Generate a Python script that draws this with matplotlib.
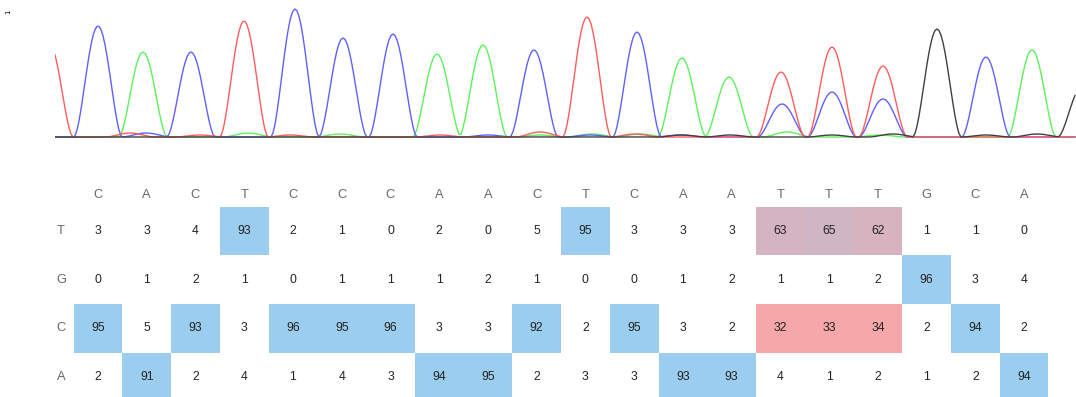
import numpy as np
import matplotlib.pyplot as plt

# called bases and per-base percentages (rows T, G, C, A)
bases = list("CACTCCCAACTCAATTTGCA")
row_labels = ["T", "G", "C", "A"]
pct_T = [3, 3, 4, 93, 2, 1, 0, 2, 0, 5, 95, 3, 3, 3, 63, 65, 62, 1, 1, 0]
pct_G = [0, 1, 2, 1, 0, 1, 1, 1, 2, 1, 0, 0, 1, 2, 1, 1, 2, 96, 3, 4]
pct_C = [95, 5, 93, 3, 96, 95, 96, 3, 3, 92, 2, 95, 3, 2, 32, 33, 34, 2, 94, 2]
pct_A = [2, 91, 2, 4, 1, 4, 3, 94, 95, 2, 3, 3, 93, 93, 4, 1, 2, 1, 2, 94]

# chromatogram peaks per channel: (scan position, height)
peaks_C = [(98, 111), (191, 85), (295, 128), (343, 99), (393, 103), (534, 87),
           (637, 105), (782, 33), (832, 45), (883, 38), (986, 80),
           (146, 4), (488, 2), (590, 2), (680, 2)]
peaks_A = [(143, 85), (437, 83), (483, 92), (682, 79), (729, 60), (1032, 87),
           (248, 4), (340, 3), (540, 2), (592, 3), (640, 3), (787, 5), (880, 2)]
peaks_T = [(49, 94), (244, 116), (587, 120), (781, 65), (832, 90), (883, 71),
           (130, 4), (200, 2), (290, 2), (440, 2), (540, 5), (635, 3)]
peaks_G = [(937, 108), (1082, 50),
           (682, 2), (730, 2), (832, 2), (893, 3), (986, 2), (1037, 3)]

W, H = 1076, 397
fig = plt.figure(figsize=(W / 100, H / 100), dpi=100)


def trace(x, peaks, w=24.0, p=1.7):
    y = np.zeros_like(x)
    for pos, h in peaks:
        d = np.abs(x - pos)
        m = d < w
        y[m] += h * np.cos(np.pi * d[m] / (2 * w)) ** p
    return y


# --- chromatogram ---
ax = fig.add_axes([55 / W, (H - 140) / H, (W - 55) / W, 140 / H])
x = np.arange(55, 1077, 2.0)
for peaks, col in [(peaks_A, "#5cf25c"), (peaks_C, "#6060ff"),
                   (peaks_T, "#ff5c5c"), (peaks_G, "#404040")]:
    ax.plot(x, trace(x, peaks), color=col, lw=1.0)
ax.set_xlim(55, 1076)
ax.set_ylim(-3, 137)
ax.axis("off")

fig.text(8 / W, 1 - 12 / H, "1", fontsize=5, rotation=90, ha="center", va="center")

# --- percentage table ---
tab = fig.add_axes([0, 0, 1, 1])
tab.set_xlim(0, W)
tab.set_ylim(H, 0)
tab.axis("off")

col0, cw = 98.0, 48.74
row0, rh = 231.0, 48.7
head_y = 195
blue = np.array([154, 205, 238]) / 255
red = np.array([245, 167, 169]) / 255
font = ["Liberation Sans", "DejaVu Sans"]

rows = [pct_T, pct_G, pct_C, pct_A]
for j, b in enumerate(bases):
    tab.text(col0 + j * cw, head_y, b, ha="center", va="center",
             fontsize=9.3, color="#666666", family=font)
for i, (lab, vals) in enumerate(zip(row_labels, rows)):
    yc = row0 + i * rh
    tab.text(61, yc, lab, ha="center", va="center", fontsize=9.3,
             color="#666666", family=font)
    for j, v in enumerate(vals):
        xc = col0 + j * cw
        if v >= 20:
            t = np.clip((v - 50) / 37.0, 0, 1)
            c = red + (blue - red) * t
            tab.add_patch(plt.Rectangle((xc - cw / 2, yc - rh / 2), cw, rh,
                                        facecolor=c, edgecolor="none"))
        tab.text(xc, yc, str(v), ha="center", va="center", fontsize=8.7,
                 color="#222222", family=font)

plt.savefig("out.png", dpi=100)
